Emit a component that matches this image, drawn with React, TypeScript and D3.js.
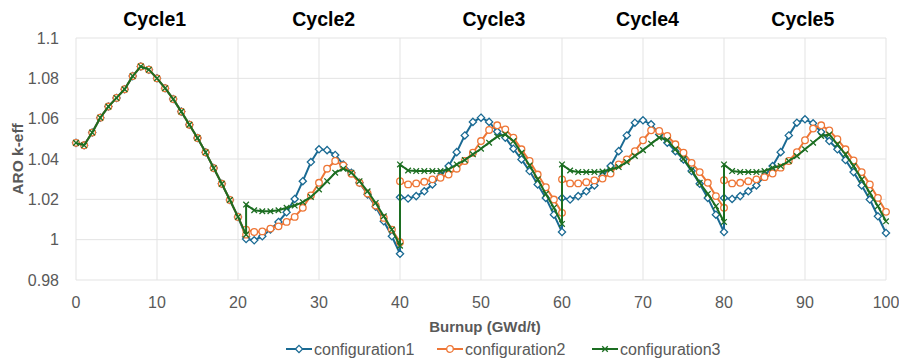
import React from "react";
import * as d3 from "d3";

const cycleLabels = ["Cycle1", "Cycle2", "Cycle3", "Cycle4", "Cycle5"];
const cycleLabelX = [9.72, 30.58, 51.6, 70.56, 89.73];

const xTicks = [0, 10, 20, 30, 40, 50, 60, 70, 80, 90, 100];
const yTicks = [0.98, 1, 1.02, 1.04, 1.06, 1.08, 1.1];
const yTickLabels = ["0.98", "1", "1.02", "1.04", "1.06", "1.08", "1.1"];

const burnupC1 = [0, 1, 2, 3, 4, 5, 6, 7, 8, 9, 10, 11, 12, 13, 14, 15, 16, 17, 18, 19, 20, 21];
const burnupC2 = [21, 22, 23, 24, 25, 26, 27, 28, 29, 30, 31, 32, 33, 34, 35, 36, 37, 38, 39, 40];
const burnupC3 = [40, 41, 42, 43, 44, 45, 46, 47, 48, 49, 50, 51, 52, 53, 54, 55, 56, 57, 58, 59, 60];
const burnupC4 = [60, 61, 62, 63, 64, 65, 66, 67, 68, 69, 70, 71, 72, 73, 74, 75, 76, 77, 78, 79, 80];
const burnupC5 = [80, 81, 82, 83, 84, 85, 86, 87, 88, 89, 90, 91, 92, 93, 94, 95, 96, 97, 98, 99, 100];

const config1 = [
  // cycle 1
  1.048, 1.0468, 1.0531, 1.0605, 1.066, 1.0703, 1.0746, 1.0811, 1.0859, 1.0843, 1.08, 1.0751, 1.0697, 1.0635, 1.057, 1.0504, 1.0433, 1.0355, 1.0277, 1.0197, 1.0113, 1.0015,
  // cycle 2
  1.0003, 0.9997, 1.0017, 1.005, 1.0088, 1.0136, 1.0202, 1.029, 1.0385, 1.0448, 1.0444, 1.042, 1.0373, 1.0332, 1.0282, 1.0224, 1.0163, 1.0091, 1.0017, 0.993,
  // cycle 3
  1.021, 1.0204, 1.0216, 1.024, 1.0274, 1.0315, 1.0365, 1.0434, 1.0517, 1.0584, 1.0605, 1.0584, 1.0536, 1.0506, 1.0451, 1.0398, 1.034, 1.0274, 1.0207, 1.0124, 1.0038,
  // cycle 4
  1.0207, 1.0199, 1.0216, 1.024, 1.0269, 1.0315, 1.0365, 1.0439, 1.0517, 1.058, 1.0592, 1.0572, 1.0522, 1.0481, 1.0439, 1.0398, 1.034, 1.0277, 1.0207, 1.0124, 1.0038,
  // cycle 5
  1.0207, 1.0202, 1.0216, 1.024, 1.0269, 1.0315, 1.0365, 1.0434, 1.0517, 1.058, 1.0597, 1.0577, 1.0534, 1.0489, 1.0448, 1.0395, 1.0335, 1.0269, 1.0199, 1.0116, 1.0033,
];

const config2 = [
  1.048, 1.0468, 1.0531, 1.0605, 1.066, 1.0703, 1.0746, 1.0811, 1.0859, 1.0843, 1.08, 1.0751, 1.0697, 1.0635, 1.057, 1.0504, 1.0433, 1.0355, 1.0277, 1.0197, 1.0113, 1.0025,
  1.005, 1.0038, 1.0041, 1.0055, 1.0066, 1.0088, 1.0113, 1.0158, 1.0219, 1.0282, 1.0352, 1.039, 1.0368, 1.0327, 1.0282, 1.0229, 1.0169, 1.0108, 1.005, 0.9987,
  1.029, 1.0274, 1.0279, 1.0287, 1.0299, 1.0307, 1.0323, 1.0352, 1.039, 1.0431, 1.0489, 1.0544, 1.0567, 1.0547, 1.0506, 1.0448, 1.039, 1.0323, 1.026, 1.0199, 1.0133,
  1.0299, 1.0279, 1.0279, 1.0285, 1.0294, 1.0303, 1.0328, 1.0373, 1.0398, 1.0439, 1.0493, 1.0542, 1.0539, 1.0514, 1.0473, 1.0431, 1.0381, 1.0335, 1.0282, 1.0216, 1.0158,
  1.0295, 1.0279, 1.0282, 1.029, 1.0299, 1.031, 1.0328, 1.0357, 1.039, 1.0434, 1.0493, 1.0551, 1.0567, 1.0542, 1.0498, 1.0448, 1.0393, 1.0335, 1.0274, 1.0207, 1.0138,
];

const config3 = [
  1.048, 1.0468, 1.0531, 1.0605, 1.066, 1.0703, 1.0746, 1.0811, 1.0859, 1.0843, 1.08, 1.0751, 1.0697, 1.0635, 1.057, 1.0504, 1.0433, 1.0355, 1.0277, 1.0197, 1.0113, 1.0025,
  1.0174, 1.0146, 1.0141, 1.0141, 1.0146, 1.0158, 1.0169, 1.0186, 1.0212, 1.0249, 1.029, 1.0332, 1.0352, 1.0332, 1.029, 1.024, 1.0182, 1.0116, 1.005, 0.997,
  1.0373, 1.0343, 1.034, 1.034, 1.034, 1.034, 1.0348, 1.0373, 1.0395, 1.0423, 1.0451, 1.0481, 1.0511, 1.0522, 1.0489, 1.0431, 1.0368, 1.0299, 1.0227, 1.0158, 1.0078,
  1.0373, 1.0343, 1.0335, 1.0335, 1.0335, 1.0338, 1.0348, 1.036, 1.0385, 1.0415, 1.0444, 1.0476, 1.0506, 1.0494, 1.0448, 1.0401, 1.0345, 1.0282, 1.0227, 1.0166, 1.0088,
  1.0373, 1.034, 1.0335, 1.0335, 1.0335, 1.034, 1.0357, 1.0365, 1.039, 1.0415, 1.0448, 1.0481, 1.0514, 1.0522, 1.0473, 1.0423, 1.0365, 1.0299, 1.0232, 1.0166, 1.0091,
];

const seriesNames = ["configuration1", "configuration2", "configuration3"];
const seriesColors = ["#1a6a93", "#ee7636", "#1c6e22"];
const seriesMarkers = ["diamond", "circle", "cross"];

const W = 899;
const H = 359;
const FONT = "'Liberation Sans', Arial, sans-serif";

function Marker({ type, x, y, color }: { type: string; x: number; y: number; color: string }) {
  if (type === "diamond") {
    const r = 3.6;
    return (
      <path
        d={`M${x},${y - r}L${x + r},${y}L${x},${y + r}L${x - r},${y}Z`}
        fill="#fff"
        stroke={color}
        strokeWidth={1.3}
      />
    );
  }
  if (type === "circle") {
    return <circle cx={x} cy={y} r={3.3} fill="#fff" stroke={color} strokeWidth={1.3} />;
  }
  const r = 2.8;
  return (
    <path
      d={`M${x - r},${y - r}L${x + r},${y + r}M${x - r},${y + r}L${x + r},${y - r}`}
      stroke={color}
      strokeWidth={1.3}
      fill="none"
    />
  );
}

export default function App() {
  const burnup = [...burnupC1, ...burnupC2, ...burnupC3, ...burnupC4, ...burnupC5];
  const allSeries = [config1, config2, config3];

  const x = d3.scaleLinear().domain([0, 100]).range([76, 886]);
  const y = d3.scaleLinear().domain([0.98, 1.1]).range([280, 38]);

  const line = d3
    .line<number>()
    .x((_, i) => x(burnup[i]))
    .y((d) => y(d));

  const legendStart = [286, 437, 592];

  return (
    <svg
      width={W}
      height={H}
      style={{ position: "absolute", left: 0, top: 0, background: "#fff" }}
      fontFamily={FONT}
    >
      <rect x={0} y={0} width={W} height={H} fill="#fff" />
      {/* gridlines */}
      {yTicks.map((t) => (
        <line key={"gy" + t} x1={x(0)} x2={x(100)} y1={y(t)} y2={y(t)} stroke="#e3e3e3" strokeWidth={1} />
      ))}
      {xTicks.map((t) => (
        <line key={"gx" + t} x1={x(t)} x2={x(t)} y1={y(0.98)} y2={y(1.1)} stroke="#e3e3e3" strokeWidth={1} />
      ))}

      {/* y tick labels */}
      {yTicks.map((t, i) => (
        <text
          key={"yl" + t}
          x={59}
          y={y(t)}
          dy="0.35em"
          textAnchor="end"
          fontSize={16}
          fill="#595959"
        >
          {yTickLabels[i]}
        </text>
      ))}
      {/* x tick labels */}
      {xTicks.map((t) => (
        <text key={"xl" + t} x={x(t)} y={302} dy="0.35em" textAnchor="middle" fontSize={16} fill="#595959">
          {t}
        </text>
      ))}

      {/* axis titles */}
      <text
        transform={`translate(${23},${y(1.04)}) rotate(-90)`}
        textAnchor="middle"
        fontSize={15.5}
        fontWeight="bold"
        fill="#595959"
      >
        ARO k-eff
      </text>
      <text x={485} y={327} dy="0.35em" textAnchor="middle" fontSize={15} fontWeight="bold" fill="#595959">
        Burnup (GWd/t)
      </text>

      {/* cycle labels */}
      {cycleLabels.map((c, i) => (
        <text key={c} x={x(cycleLabelX[i])} y={26} textAnchor="middle" fontSize={19.5} fontWeight="bold" fill="#000">
          {c}
        </text>
      ))}

      {/* series */}
      {allSeries.map((s, si) => (
        <g key={seriesNames[si]}>
          <path d={line(s) || ""} fill="none" stroke={seriesColors[si]} strokeWidth={2} strokeLinejoin="round" />
          {s.map((v, i) => (
            <Marker key={i} type={seriesMarkers[si]} x={x(burnup[i])} y={y(v)} color={seriesColors[si]} />
          ))}
        </g>
      ))}

      {/* legend */}
      {seriesNames.map((n, i) => (
        <g key={"lg" + n} transform={`translate(${legendStart[i]},349)`}>
          <line x1={0} x2={26} y1={0} y2={0} stroke={seriesColors[i]} strokeWidth={2} />
          <Marker type={seriesMarkers[i]} x={13} y={0} color={seriesColors[i]} />
          <text x={28} y={0} dy="0.35em" fontSize={16} fill="#595959">
            {n}
          </text>
        </g>
      ))}
    </svg>
  );
}
